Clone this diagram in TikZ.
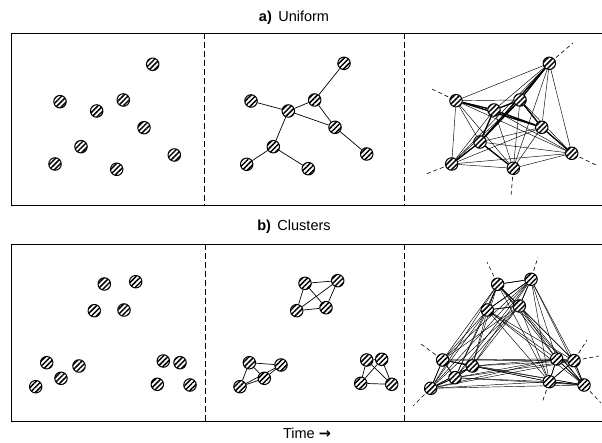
\documentclass[tikz,border=0pt]{standalone}
\usepackage{fontspec}
\setmainfont{Liberation Sans}
\newfontfamily\arrowfont{DejaVu Sans}
\usetikzlibrary{patterns.meta,backgrounds}
\tikzset{
  ball/.style={circle,draw,line width=1pt,minimum size=12.5pt,inner sep=0pt,fill=white,
    postaction={pattern={Lines[angle=45,distance=3.6pt,line width=1.5pt]}}},
  frameline/.style={line width=0.9pt},
  divider/.style={line width=0.7pt,dash pattern=on 6pt off 3pt},
  edge/.style={line width=0.7pt},
  thinedge/.style={line width=0.45pt},
  thickedge/.style={line width=1.3pt},
  ext/.style={line width=0.6pt,dash pattern=on 4pt off 3pt,shorten <=2pt},
  title/.style={font=\fontsize{14.5}{16}\selectfont,inner sep=1pt}
}
\begin{document}
\begin{tikzpicture}[x=1pt,y=-1pt]
\useasboundingbox (0,0) rectangle (602,443);
% titles
\node[title] (ta) at (294,18) {\textbf{a)}\, Uniform};
\node[title] (tb) at (294,227) {\textbf{b)}\, Clusters};
\node[title] (tt) at (307,433) {Time {\arrowfont\bfseries →}};
% frames
\draw[frameline] (602,33) -- (11,33) -- (11,205) -- (602,205);
\draw[frameline] (602,244) -- (11,244) -- (11,421) -- (602,421);
\draw[divider] (204,33) -- (204,205);
\draw[divider] (404,33) -- (404,205);
\draw[divider] (205,244) -- (205,421);
\draw[divider] (404,244) -- (404,421);
% ---- a) left
\foreach \n/\x/\y in {1/152.7/64.3,2/60/101.7,3/123.3/100,4/96.7/111,5/144/127.7,6/81/146.7,7/55/164,8/116.7/169.3,9/174.3/155}
  \node[ball] (L\n) at (\x,\y) {};
% ---- a) middle
\foreach \n/\x/\y in {1/344/63.3,2/251/101,3/314.7/100,4/288.3/111,5/335/127.3,6/273.3/146.7,7/246.7/164.3,8/308.3/168.7,9/366.7/154}
  \node[ball] (M\n) at (\x,\y) {};
% ---- a) right
\foreach \n/\x/\y in {1/549.3/63.3,2/456/100.7,3/520/100,4/494/110,5/541.7/127.3,6/480/142,7/451.7/164,8/513.3/168.3,9/571.7/153.3}
  \node[ball] (Q\n) at (\x,\y) {};
\coordinate (qe1) at (573,43);
\coordinate (qe2) at (432,89);
\coordinate (qe7) at (426,174);
\coordinate (qe8) at (511,196);
\coordinate (qe9) at (598,166);
% ---- b) left
\foreach \n/\x/\y in {1/104.3/284,2/135.7/281.7,3/94.3/310.7,4/124/310,5/46.7/362.7,6/79/366,7/61/378.3,8/35.7/386.7,9/163.3/361,10/180/362.7,11/157.3/384.3,12/190/385}
  \node[ball] (B\n) at (\x,\y) {};
% ---- b) middle
\foreach \n/\x/\y in {1/305/283.3,2/337.7/280.7,3/296.7/310.7,4/326/307.7,5/249.3/362.7,6/281/365,7/264.3/378.3,8/240/386.7,9/366.7/360,10/381.7/359.3,11/360.7/383.3,12/391.7/384.3}
  \node[ball] (C\n) at (\x,\y) {};
% ---- b) right
\foreach \n/\x/\y in {1/497.7/284.3,2/531/279.3,3/487.3/310,4/519.3/306,5/442.7/360,6/472.3/366,7/455/377.7,8/430.7/388.3,9/556.7/359,10/574/360.7,11/549.3/381.7,12/584/385}
  \node[ball] (D\n) at (\x,\y) {};
\coordinate (de1) at (487,262);
\coordinate (de2) at (538,257);
\coordinate (de5) at (421,344);
\coordinate (de8) at (413,406);
\coordinate (de11) at (542,403);
\coordinate (de12) at (601,403);
\coordinate (de10a) at (587,340);
\coordinate (de10b) at (599,356);
\begin{scope}[on background layer]
  % a) middle edges
  \foreach \a/\b in {1/3,3/4,2/4,4/5,3/5,5/9,4/6,6/7,6/8}
    \draw[edge] (M\a) -- (M\b);
  % a) right: complete graph
  \foreach \i [evaluate=\i as \s using int(\i+1)] in {1,...,8}
    \foreach \j in {\s,...,9}
      \draw[thinedge] (Q\i) -- (Q\j);
  \foreach \a/\b in {1/3,3/4,2/4,4/5,3/5,5/9,4/6,6/7,6/8,2/5,1/6,3/6}
    \draw[thickedge] (Q\a) -- (Q\b);
  \foreach \n in {1,2,7,8,9}
    \draw[ext] (Q\n) -- (qe\n);
  % b) middle: clusters
  \foreach \a/\b in {1/2,1/3,1/4,2/3,2/4,3/4,5/6,5/7,5/8,6/7,6/8,7/8,9/10,9/11,9/12,10/11,10/12,11/12}
    \draw[edge] (C\a) -- (C\b);
  % b) right: complete graph
  \foreach \i [evaluate=\i as \s using int(\i+1)] in {1,...,11}
    \foreach \j in {\s,...,12}
      \draw[thinedge] (D\i) -- (D\j);
  \foreach \a/\b in {1/2,1/3,1/4,2/3,2/4,3/4,5/6,5/7,5/8,6/7,6/8,7/8,9/10,9/11,9/12,10/11,10/12,11/12}
    \draw[edge] (D\a) -- (D\b);
  \foreach \n in {1,2,5,8,11,12}
    \draw[ext] (D\n) -- (de\n);
  \draw[ext] (D10) -- (de10a);
  \draw[ext] (D10) -- (de10b);
\end{scope}
\end{tikzpicture}
\end{document}
